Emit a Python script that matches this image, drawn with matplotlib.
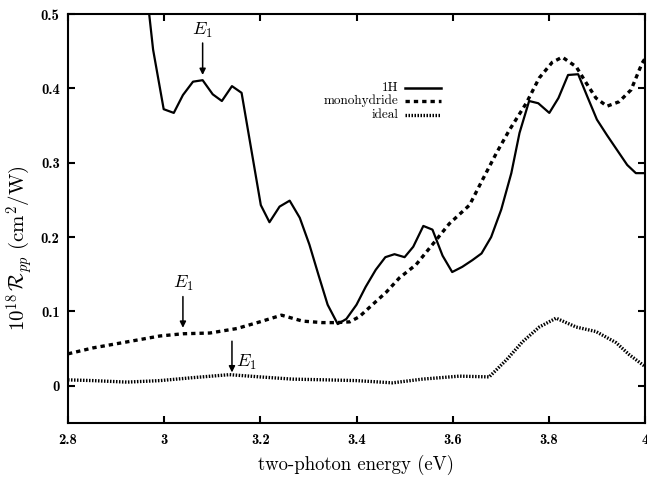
import matplotlib

matplotlib.use("Agg")
import matplotlib.pyplot as plt
from matplotlib.lines import Line2D

# 1H (solid)
h_x = [2.962, 2.977, 2.999, 3.020, 3.039, 3.060, 3.080, 3.101, 3.120, 3.141,
       3.161, 3.201, 3.219, 3.240, 3.261, 3.282, 3.302, 3.321, 3.340, 3.361,
       3.379, 3.400, 3.419, 3.440, 3.460, 3.479, 3.500, 3.518, 3.539, 3.558,
       3.579, 3.599, 3.620, 3.641, 3.660, 3.680, 3.701, 3.722, 3.739, 3.759,
       3.778, 3.801, 3.820, 3.840, 3.861, 3.880, 3.900, 3.921, 3.942, 3.963,
       3.981, 4.000]
h_y = [0.540, 0.452, 0.372, 0.367, 0.391, 0.409, 0.411, 0.392, 0.383, 0.403,
       0.394, 0.243, 0.220, 0.241, 0.249, 0.226, 0.190, 0.149, 0.109, 0.083,
       0.090, 0.109, 0.133, 0.156, 0.173, 0.177, 0.173, 0.187, 0.215, 0.210,
       0.175, 0.153, 0.160, 0.169, 0.178, 0.200, 0.237, 0.286, 0.340, 0.383,
       0.380, 0.367, 0.387, 0.418, 0.419, 0.389, 0.358, 0.337, 0.317, 0.297,
       0.286, 0.286]

# monohydride (dashed)
mono_x = [2.800, 2.852, 2.922, 2.991, 3.039, 3.095, 3.151, 3.199, 3.244, 3.288,
          3.329, 3.358, 3.386, 3.406, 3.433, 3.462, 3.489, 3.524, 3.558, 3.593,
          3.635, 3.662, 3.691, 3.718, 3.753, 3.780, 3.807, 3.828, 3.857, 3.878,
          3.898, 3.921, 3.946, 3.971, 3.994, 4.000]
mono_y = [0.043, 0.051, 0.059, 0.067, 0.070, 0.071, 0.077, 0.086, 0.095, 0.087,
          0.085, 0.085, 0.086, 0.093, 0.109, 0.126, 0.145, 0.163, 0.190, 0.218,
          0.243, 0.277, 0.313, 0.344, 0.380, 0.414, 0.435, 0.442, 0.429, 0.407,
          0.387, 0.376, 0.382, 0.398, 0.434, 0.440]

# ideal (dotted)
ideal_x = [2.800, 2.852, 2.922, 2.991, 3.060, 3.136, 3.199, 3.267, 3.338, 3.400,
           3.475, 3.537, 3.614, 3.676, 3.712, 3.745, 3.780, 3.815, 3.857, 3.898,
           3.940, 3.967, 4.000]
ideal_y = [0.008, 0.007, 0.005, 0.007, 0.011, 0.015, 0.012, 0.009, 0.008, 0.007,
           0.004, 0.009, 0.013, 0.012, 0.035, 0.059, 0.079, 0.091, 0.079, 0.073,
           0.058, 0.042, 0.026]

x_ticks = [2.8, 3.0, 3.2, 3.4, 3.6, 3.8, 4.0]
x_tick_labels = ["2.8", "3", "3.2", "3.4", "3.6", "3.8", "4"]
y_ticks = [0.0, 0.1, 0.2, 0.3, 0.4, 0.5]
y_tick_labels = ["0", "0.1", "0.2", "0.3", "0.4", "0.5"]

# E1 markers: (x, arrow top, arrow tip, label x, label y, label alignment)
e1_marks = [
    (3.080, 0.461, 0.418, 3.080, 0.478, "center"),
    (3.039, 0.120, 0.078, 3.039, 0.137, "center"),
    (3.141, 0.060, 0.018, 3.149, 0.032, "left"),
]

plt.rcParams["mathtext.fontset"] = "cm"

fig = plt.figure(figsize=(6.47, 4.83), dpi=100)
ax = fig.add_axes([68 / 647, 60 / 483, 577 / 647, 409 / 483])

ax.plot(h_x, h_y, color="black", linewidth=1.6, label="1H")
ax.plot(mono_x, mono_y, color="black", linewidth=2.4,
        linestyle=(0, (1.3, 1.2)), label="monohydride")
ax.plot(ideal_x, ideal_y, color="black", linewidth=2.4,
        linestyle=(0, (0.45, 0.45)), label="ideal")

for x, top, tip, lx, ly, ha in e1_marks:
    ax.annotate("", xy=(x, tip), xytext=(x, top),
                arrowprops=dict(arrowstyle="-|>", color="black", lw=1.1,
                                mutation_scale=9, shrinkA=0, shrinkB=0))
    ax.text(lx, ly, r"$E_1$", ha=ha, va="center", fontsize=13)

# legend drawn by hand: right-aligned labels with line sample on the right
legend_rows = [("1H", 1.8, "-"), ("monohydride", 2.4, (0, (1.3, 1.2))),
               ("ideal", 2.4, (0, (0.45, 0.45)))]
row_y = [0.819, 0.787, 0.753]
for (label, lw, ls), y in zip(legend_rows, row_y):
    ax.text(0.572, y, label, transform=ax.transAxes, ha="right", va="center",
            fontsize=9.5, family="cmr10")
    ax.add_line(Line2D([0.584, 0.646], [y, y], transform=ax.transAxes,
                       color="black", linewidth=lw, linestyle=ls))

ax.set_xlim(2.8, 4.0)
ax.set_ylim(-0.05, 0.5)
ax.set_xticks(x_ticks)
ax.set_xticklabels(x_tick_labels, family="cmb10", fontsize=10.5)
ax.set_yticks(y_ticks)
ax.set_yticklabels(y_tick_labels, family="cmb10", fontsize=10.5)
ax.tick_params(direction="in", length=5, width=1.5, top=True, right=True)
ax.tick_params(axis="x", pad=7)
ax.tick_params(axis="y", pad=6)
for spine in ax.spines.values():
    spine.set_linewidth(1.5)

ax.set_xlabel("two-photon energy (eV)", family="cmr10", fontsize=13.5)
ax.xaxis.set_label_coords(0.5, -0.078)
ax.set_ylabel(r"$10^{18}\,\mathcal{R}_{pp}\ (\mathrm{cm}^2/\mathrm{W})$",
              fontsize=15)
ax.yaxis.set_label_coords(-0.058, 0.428)

fig.savefig("out.png", dpi=100)
